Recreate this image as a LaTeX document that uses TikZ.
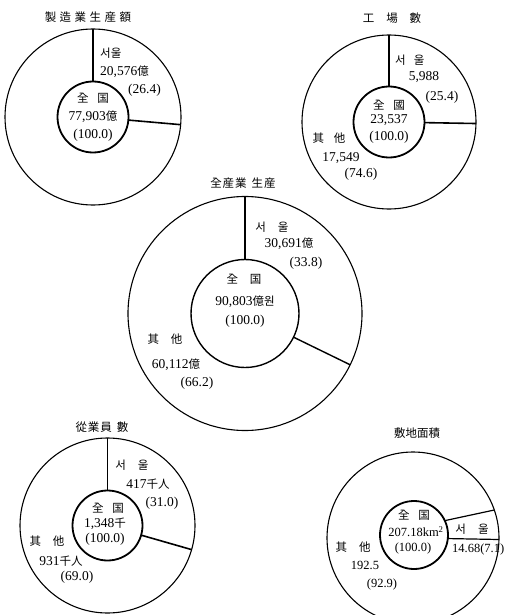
\documentclass[tikz,border=0pt]{standalone}
\usepackage{fontspec}
\setmainfont{Liberation Serif}
\newfontfamily\cjk{Noto Sans CJK KR}
\newcommand\kj[1]{{\cjk\fontsize{11.5}{11.5}\selectfont #1}}
\tikzset{
  ring/.style={circle, draw, line width=1.1pt, inner sep=0pt, outer sep=0pt},
  hub/.style={circle, draw, line width=1.8pt, inner sep=0pt, outer sep=0pt},
  spoke/.style={line width=1.6pt},
  lbl/.style={font=\fontsize{13.5}{13.5}\selectfont, inner sep=0pt},
  slbl/.style={font=\fontsize{12.5}{12.5}\selectfont, inner sep=0pt},
  ttl/.style={font=\cjk\fontsize{11.5}{11.5}\selectfont, inner sep=0pt},
}
\begin{document}
\begin{tikzpicture}[x=1pt,y=-1pt]
\useasboundingbox (0,0) rectangle (512,615);
% ---------- chart 1 ----------
\node[ttl] (t1) at (88,17) {製\hspace{3.5pt}造\hspace{3.5pt}業\hspace{3.5pt}生\hspace{3.5pt}産\hspace{3.5pt}額};
\node[ring, minimum size=176pt] (o1) at (93,117) {};
\node[hub, minimum size=71pt] (i1) at (93,117) {};
\draw[spoke] (i1.90) -- (o1.90);
\draw[spoke] (i1.-5) -- (o1.-5);
\node[lbl, anchor=west] (s1a) at (100,53) {\kj{서울}};
\node[lbl, anchor=west] (s1b) at (100,72) {20,576\kj{億}};
\node[lbl, anchor=west] (s1c) at (128,90) {(26.4)};
\node[lbl] (n1a) at (93,98) {\kj{全\hspace{9pt}国}};
\node[lbl] (n1b) at (93,117) {77,903\kj{億}};
\node[lbl] (n1c) at (93,135) {(100.0)};
% ---------- chart 2 ----------
\node[ttl] (t2) at (392,18) {工\hspace{12pt}場\hspace{12pt}數};
\node[ring, minimum size=174pt] (o2) at (389,122) {};
\node[hub, minimum size=71pt] (i2) at (389,122) {};
\draw[spoke] (i2.90) -- (o2.90);
\draw[spoke] (i2.-1.5) -- (o2.-1.5);
\node[lbl, anchor=west] (s2a) at (395,60) {\kj{서\hspace{8pt}울}};
\node[lbl] (s2b) at (424,77) {5,988};
\node[lbl] (s2c) at (442,97) {(25.4)};
\node[lbl] (n2a) at (389,105) {\kj{全\hspace{9pt}國}};
\node[lbl] (n2b) at (389,120) {23,537};
\node[lbl] (n2c) at (389,137) {(100.0)};
\node[lbl] (e2a) at (329,138) {\kj{其\hspace{10pt}他}};
\node[lbl] (e2b) at (341,158) {17,549};
\node[lbl] (e2c) at (361,174) {(74.6)};
% ---------- chart 3 ----------
\node[ttl] (t3) at (243,183) {全\hspace{1pt}産\hspace{1pt}業\hspace{5pt}生\hspace{1pt}産};
\node[ring, minimum size=234pt] (o3) at (245,313.5) {};
\node[hub, minimum size=108pt, line width=1.4pt] (i3) at (245,313.5) {};
\draw[spoke, line width=1.4pt] (i3.90) -- (o3.90);
\draw[spoke, line width=1.4pt] (i3.-26.5) -- (o3.-26.5);
\node[lbl] (s3a) at (272,227) {\kj{서\hspace{12pt}울}};
\node[lbl] (s3b) at (289,244) {30,691\kj{億}};
\node[lbl] (s3c) at (306,263) {(33.8)};
\node[lbl] (n3a) at (244,279) {\kj{全\hspace{12pt}国}};
\node[lbl] (n3b) at (245,302) {90,803\kj{億원}};
\node[lbl] (n3c) at (245,321) {(100.0)};
\node[lbl] (e3a) at (165,339) {\kj{其\hspace{12pt}他}};
\node[lbl] (e3b) at (176,365) {60,112\kj{億}};
\node[lbl] (e3c) at (197,383) {(66.2)};
% ---------- chart 4 ----------
\node[ttl] (t4) at (102,427) {從\hspace{1pt}業\hspace{1pt}員\hspace{5pt}數};
\node[ring, minimum size=175pt] (o4) at (107.5,525.5) {};
\node[hub, minimum size=70pt] (i4) at (107.5,525.5) {};
\draw[spoke] (i4.90) -- (o4.90);
\draw[spoke] (i4.-16) -- (o4.-16);
\node[lbl] (s4a) at (132,465) {\kj{서\hspace{12pt}울}};
\node[lbl] (s4b) at (148,484) {417\kj{千人}};
\node[lbl] (s4c) at (162,503) {(31.0)};
\node[lbl] (n4a) at (108,508) {\kj{全\hspace{9pt}国}};
\node[lbl] (n4b) at (105,524) {1,348\kj{千}};
\node[lbl] (n4c) at (105,539) {(100.0)};
\node[lbl] (e4a) at (47,541) {\kj{其\hspace{12pt}他}};
\node[lbl] (e4b) at (61,561) {931\kj{千人}};
\node[lbl] (e4c) at (77,577) {(69.0)};
% ---------- chart 5 ----------
\node[ttl] (t5) at (417,433) {敷地面積};
\node[ring, minimum size=172pt] (o5) at (413,538) {};
\node[hub, minimum size=68pt] (i5) at (414,535) {};
\draw[spoke, line width=1.2pt] (i5.-6) -- (o5.-1);
\draw[spoke, line width=1.2pt] (i5.25) -- (o5.19);
\node[slbl] (s5a) at (472,529) {\kj{서\hspace{12pt}울}};
\node[slbl, anchor=west] (s5b) at (452,549) {14.68(7.1)};
\node[slbl] (n5a) at (414,515) {\kj{全\hspace{9pt}国}};
\node[slbl] (n5b) at (416,532) {207.18km\textsuperscript{2}};
\node[slbl] (n5c) at (413,548) {(100.0)};
\node[lbl] (e5a) at (353,547) {\kj{其\hspace{12pt}他}};
\node[slbl] (e5b) at (365,565) {192.5};
\node[slbl] (e5c) at (382,584) {(92.9)};
\end{tikzpicture}
\end{document}
